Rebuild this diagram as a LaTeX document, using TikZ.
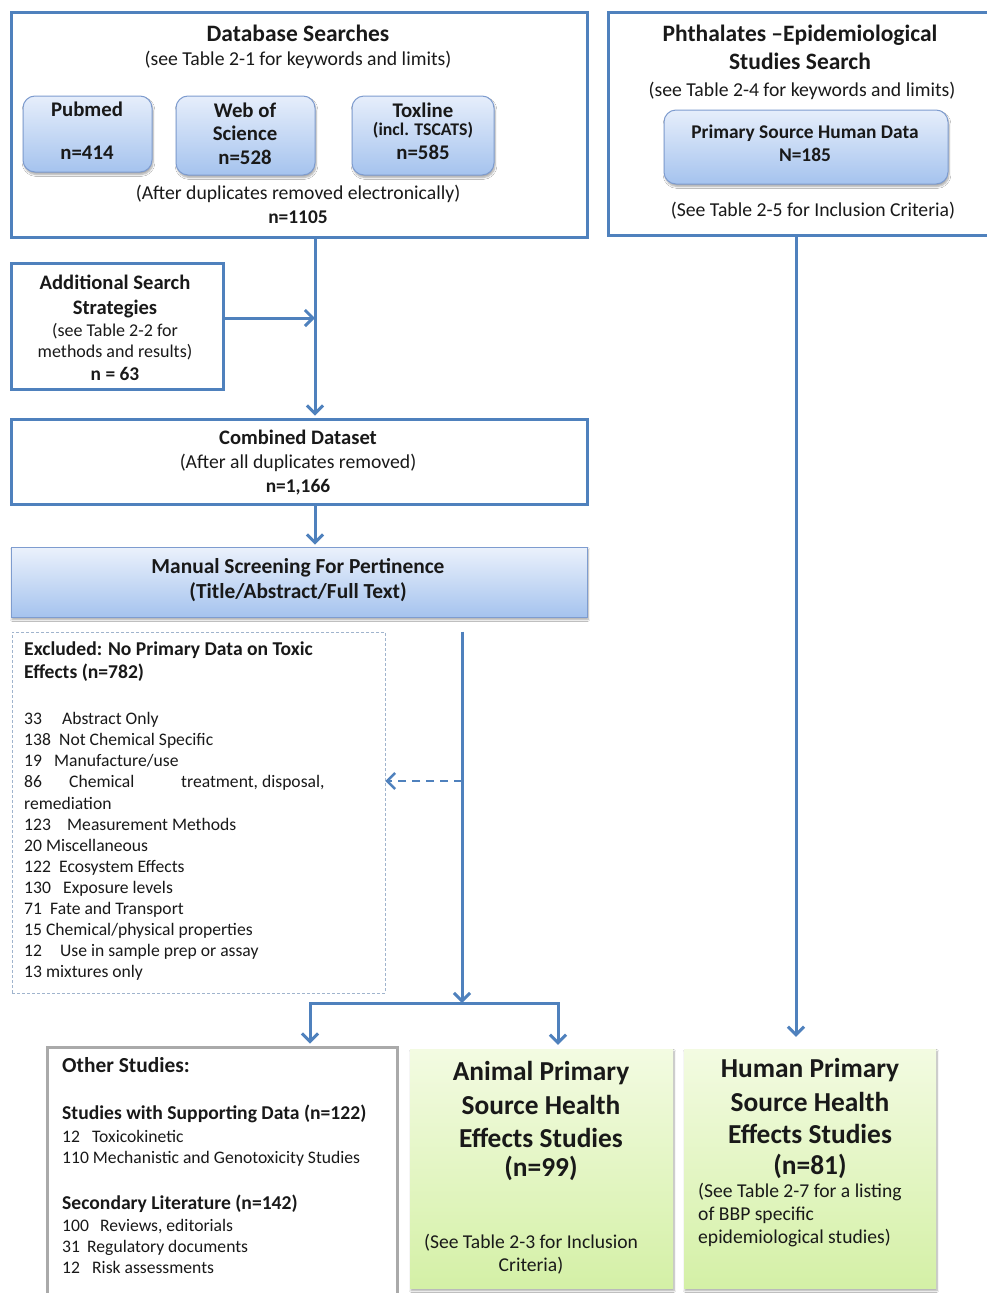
\documentclass[tikz,border=0pt]{standalone}
\usepackage{fontspec}
\setmainfont{Carlito}
\usetikzlibrary{arrows.meta,shadows.blur,calc}
\definecolor{lineblue}{RGB}{79,129,189}
\definecolor{boxedge}{RGB}{126,156,207}
\definecolor{btop}{RGB}{230,238,251}
\definecolor{bbot}{RGB}{165,195,238}
\definecolor{gtop}{RGB}{243,251,226}
\definecolor{gbot}{RGB}{212,240,166}
\definecolor{dashgrey}{RGB}{160,180,205}
\definecolor{othgrey}{RGB}{170,170,170}
\definecolor{txt}{RGB}{25,25,25}
\begin{document}
\begin{tikzpicture}[x=1pt,y=-1pt,
  frame/.style={draw=lineblue,line width=3pt,fill=white,inner sep=0pt},
  rbox/.style={draw=boxedge,line width=1pt,rounded corners=12pt,top color=btop,bottom color=bbot,inner sep=0pt,
     blur shadow={shadow xshift=1pt,shadow yshift=-2.5pt,shadow blur steps=6,shadow opacity=35}},
  sbox/.style={draw=boxedge,line width=0.8pt,top color=btop!80!white,bottom color=bbot,inner sep=0pt,
     blur shadow={shadow xshift=1pt,shadow yshift=-2.5pt,shadow blur steps=6,shadow opacity=35}},
  gbox/.style={draw=none,top color=gtop,bottom color=gbot,inner sep=0pt,
     blur shadow={shadow xshift=1pt,shadow yshift=-2.5pt,shadow blur steps=6,shadow opacity=35}},
  exbox/.style={draw=dashgrey,line width=0.8pt,dash pattern=on 3pt off 2pt,fill=white,inner sep=0pt},
  obox/.style={draw=othgrey,line width=3pt,fill=white,inner sep=0pt},
  arr/.style={draw=lineblue,line width=3pt,-{Straight Barb[length=8pt,width=16pt]}},
  darr/.style={draw=lineblue,line width=2.5pt,dash pattern=on 8pt off 6pt,-{Straight Barb[length=8pt,width=16pt]}},
  ln/.style={inner sep=0pt,text depth=0pt,text=txt},
  tHead/.style={ln,font=\fontsize{23.5}{28}\selectfont\bfseries,text height=14.1pt},
  tTitle/.style={ln,font=\fontsize{20.6}{25}\selectfont\bfseries,text height=12.4pt},
  tMan/.style={ln,font=\fontsize{21.4}{25}\selectfont\bfseries,text height=12.8pt},
  tSub/.style={ln,font=\fontsize{19.7}{23}\selectfont,text height=11.8pt},
  tBox/.style={ln,font=\fontsize{20.8}{25}\selectfont\bfseries,text height=12.5pt},
  tBoxS/.style={ln,font=\fontsize{17.8}{21}\selectfont\bfseries,text height=10.7pt},
  tN/.style={ln,font=\fontsize{19.4}{23}\selectfont\bfseries,text height=11.6pt},
  tList/.style={ln,font=\fontsize{17.6}{21}\selectfont,text height=10.6pt,anchor=west},
  tListB/.style={ln,font=\fontsize{19.6}{23}\selectfont\bfseries,text height=11.8pt,anchor=west},
  tBig/.style={ln,font=\fontsize{27.4}{32}\selectfont\bfseries,text height=16.4pt},
  tGreen/.style={ln,font=\fontsize{19.6}{23}\selectfont,text height=11.8pt},
  tAdd/.style={ln,font=\fontsize{18}{22}\selectfont,text height=10.8pt}
]
\path[use as bounding box,clip] (0,0) rectangle (987,1293);
\fill[white] (0,0) rectangle (987,1293);

% ---------- boxes ----------
\node[frame,minimum width=576pt,minimum height=225pt] (db) at (299,124.5) {};
\node[frame,minimum width=387pt,minimum height=223pt] (ph) at (801.5,123.5) {};
\node[rbox,minimum width=129pt,minimum height=76pt] (pub) at (87.5,134) {};
\node[rbox,minimum width=139pt,minimum height=79pt] (wos) at (245.5,135.5) {};
\node[rbox,minimum width=142pt,minimum height=79pt] (tox) at (423,135.5) {};
\node[rbox,minimum width=284pt,minimum height=74pt] (psh) at (806,147) {};
\node[frame,minimum width=212pt,minimum height=126pt] (add) at (117,326) {};
\node[frame,minimum width=576pt,minimum height=85pt] (comb) at (299,461.5) {};
\node[sbox,minimum width=576pt,minimum height=70pt] (man) at (299,582) {};
\node[exbox,minimum width=373pt,minimum height=361pt] (exc) at (198.5,812.5) {};
\node[obox,minimum width=350pt,minimum height=263pt] (oth) at (222,1178.5) {};
\node[gbox,minimum width=263pt,minimum height=239pt] (ani) at (541.5,1168.5) {};
\node[gbox,minimum width=252pt,minimum height=239pt] (hum) at (810,1168.5) {};

% ---------- texts ----------
\node[tHead] (t1) at (298,34) {Database Searches};
\node[tSub] (t2) at (298,60) {(see Table 2-1 for keywords and limits)};
\node[tBox] (t3) at (87,110) {Pubmed};
\node[tBox] (t4) at (87,153) {n=414};
\node[tBox] (t5) at (245,111) {Web of};
\node[tBox] (t6) at (245,134) {Science};
\node[tBox] (t7) at (245,158) {n=528};
\node[tBox] (t8) at (423,111) {Toxline};
\node[tBoxS] (t9) at (423,130) {(incl. TSCATS)};
\node[tBox] (t10) at (423,153) {n=585};
\node[tSub] (t11) at (298,194) {(After duplicates removed electronically)};
\node[tN] (t12) at (298,218) {n=1105};

\node[tHead] (p1) at (800,34) {Phthalates –Epidemiological};
\node[tHead] (p2) at (800,62) {Studies Search};
\node[tSub] (p3) at (802,91) {(see Table 2-4 for keywords and limits)};
\node[tN] (p4) at (805,133) {Primary Source Human Data};
\node[tN] (p5) at (805,156) {N=185};
\node[tSub] (p6) at (813,211) {(See Table 2-5 for Inclusion Criteria)};

\node[tTitle] (a1) at (115,283) {Additional Search};
\node[tTitle] (a2) at (115,308) {Strategies};
\node[tAdd] (a3) at (115,331) {(see Table 2-2 for};
\node[tAdd] (a4) at (115,352) {methods and results)};
\node[tN] (a5) at (115,375) {n = 63};

\node[tTitle] (c1) at (298,438) {Combined Dataset};
\node[tSub] (c2) at (298,463) {(After all duplicates removed)};
\node[tN] (c3) at (298,487) {n=1,166};

\node[tMan] (m1) at (298,567) {Manual Screening For Pertinence};
\node[tMan] (m2) at (298,592) {(Title/Abstract/Full Text)};

\node[tListB] (e1) at (24,650) {Excluded: No Primary Data on Toxic};
\node[tListB] (e2) at (24,673) {Effects (n=782)};
\node[tList] (e3) at (24,719) {\makebox[38pt][l]{33}Abstract Only};
\node[tList] (e4) at (24,740) {\makebox[35pt][l]{138}Not Chemical Specific};
\node[tList] (e5) at (24,761) {\makebox[30pt][l]{19}Manufacture/use};
\node[tList] (e6) at (24,782) {\makebox[45pt][l]{86}\makebox[112pt][l]{Chemical}treatment, disposal,};
\node[tList] (e7) at (24,804) {remediation};
\node[tList] (e8) at (24,825) {\makebox[43pt][l]{123}Measurement Methods};
\node[tList] (e9) at (24,846) {20 Miscellaneous};
\node[tList] (e10) at (24,867) {\makebox[35pt][l]{122}Ecosystem Effects};
\node[tList] (e11) at (24,888) {\makebox[39pt][l]{130}Exposure levels};
\node[tList] (e12) at (24,909) {\makebox[26pt][l]{71}Fate and Transport};
\node[tList] (e13) at (24,930) {15 Chemical/physical properties};
\node[tList] (e14) at (24,951) {\makebox[36pt][l]{12}Use in sample prep or assay};
\node[tList] (e15) at (24,972) {13 mixtures only};

\node[tListB,font=\fontsize{21.4}{25}\selectfont\bfseries] (o1) at (62,1067) {Other Studies:};
\node[tListB] (o2) at (62,1114) {Studies with Supporting Data (n=122)};
\node[tList] (o3) at (62,1137) {\makebox[30pt][l]{12}Toxicokinetic};
\node[tList] (o4) at (62,1158) {110 Mechanistic and Genotoxicity Studies};
\node[tListB] (o5) at (62,1204) {Secondary Literature (n=142)};
\node[tList] (o6) at (62,1226) {\makebox[38pt][l]{100}Reviews, editorials};
\node[tList] (o7) at (62,1247) {\makebox[25pt][l]{31}Regulatory documents};
\node[tList] (o8) at (62,1268) {\makebox[30pt][l]{12}Risk assessments};

\node[tBig] (g1) at (541,1072) {Animal Primary};
\node[tBig] (g2) at (541,1106) {Source Health};
\node[tBig] (g3) at (541,1139) {Effects Studies};
\node[tBig] (g4) at (541,1168) {(n=99)};
\node[tGreen] (g5) at (531,1243) {(See Table 2-3 for Inclusion};
\node[tGreen] (g6) at (531,1266) {Criteria)};

\node[tBig] (h1) at (810,1069) {Human Primary};
\node[tBig] (h2) at (810,1103) {Source Health};
\node[tBig] (h3) at (810,1135) {Effects Studies};
\node[tBig] (h4) at (810,1166) {(n=81)};
\node[tGreen,anchor=west] (h5) at (698,1192) {(See Table 2-7 for a listing};
\node[tGreen,anchor=west] (h6) at (698,1215) {of BBP specific};
\node[tGreen,anchor=west] (h7) at (698,1238) {epidemiological studies)};

% ---------- connectors ----------
\coordinate (xa) at (315,0);
\coordinate (xb) at (462,0);
\coordinate (xL) at (310,0);
\coordinate (xR) at (558,0);
\coordinate (xc) at (796,0);
\coordinate (addE) at ([yshift=8pt]add.east);
\coordinate (split) at (462,1003);
\coordinate (dsh) at (462,781);

\draw[arr] (db.south -| xa) -- ([yshift=2pt]comb.north -| xa);
\draw[arr] (addE) -- (addE -| xa);
\draw[arr] (comb.south -| xa) -- ([yshift=2pt]man.north -| xa);
\draw[arr] (exc.north -| xb) -- (split);
\draw[arr] (split) -| ([yshift=2pt]oth.north -| xL);
\draw[arr] (split) -| ([yshift=4pt]ani.north -| xR);
\draw[darr] (dsh) -- (exc.east |- dsh);
\draw[arr] (ph.south -| xc) -- ([yshift=12pt]hum.north -| xc);
\end{tikzpicture}
\end{document}
